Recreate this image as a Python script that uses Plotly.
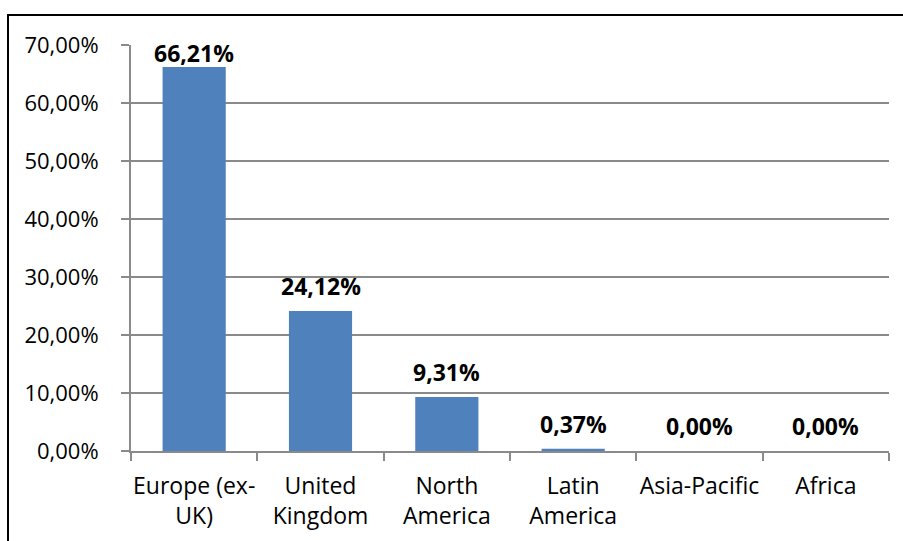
import plotly.graph_objects as go

# Regional breakdown (share of total, %)
regions = ["Europe (ex-<br>UK)", "United<br>Kingdom", "North<br>America",
           "Latin<br>America", "Asia-Pacific", "Africa"]
shares = [66.21, 24.12, 9.31, 0.37, 0.00, 0.00]

y_ticks = [0, 10, 20, 30, 40, 50, 60, 70]
y_max = 70


def pct(v):
    return f"{v:.2f}%".replace(".", ",")


FONT = "Open Sans, Liberation Sans, Arial, sans-serif"
GRID = "#8a8a8a"

fig = go.Figure(
    go.Bar(
        x=regions,
        y=shares,
        marker=dict(color="#4f81bd", line=dict(width=0)),
        width=0.5,
        hoverinfo="x+y",
    )
)

# value labels above each bar; a label that would run past the top is tucked inside
annotations = []
for cat, v in zip(regions, shares):
    if v > y_max - 5:
        annotations.append(dict(x=cat, y=y_max, yanchor="top", yshift=10))
    else:
        annotations.append(dict(x=cat, y=v, yanchor="bottom", yshift=7))
for a, v in zip(annotations, shares):
    a.update(
        xref="x",
        yref="y",
        text=f"<b>{pct(v)}</b>",
        showarrow=False,
        xanchor="center",
        font=dict(family=FONT, size=23, color="#000000"),
    )

W, H = 903, 541
L, R, T, B = 131, 14, 45, 90
pw, ph = W - L - R, H - T - B


def px_x(x):
    return (x - L) / pw


def px_y(y):
    return (H - B - y) / ph


fig.update_layout(
    width=W,
    height=H,
    margin=dict(l=L, r=R, t=T, b=B, pad=0, autoexpand=False),
    paper_bgcolor="white",
    plot_bgcolor="white",
    showlegend=False,
    font=dict(family=FONT, size=22, color="#000000"),
    annotations=annotations,
    xaxis=dict(
        type="category",
        automargin=False,
        tickangle=0,
        showgrid=False,
        showline=True,
        linecolor=GRID,
        linewidth=2,
        ticks="outside",
        tickson="boundaries",
        ticklen=8,
        tickwidth=2,
        tickcolor=GRID,
        ticklabelstandoff=13,
        tickfont=dict(family=FONT, size=23, color="#000000"),
    ),
    yaxis=dict(
        range=[0, y_max],
        automargin=False,
        tickvals=y_ticks,
        ticktext=[pct(t) for t in y_ticks],
        showgrid=True,
        gridcolor=GRID,
        gridwidth=2,
        showline=True,
        linecolor=GRID,
        linewidth=2,
        ticks="outside",
        ticklen=8,
        tickwidth=2,
        tickcolor=GRID,
        ticklabelstandoff=18,
        zeroline=False,
        tickfont=dict(family=FONT, size=22, color="#000000"),
    ),
    shapes=[
        # chart frame, continuing past the right and bottom edges
        dict(
            type="rect",
            xref="paper",
            yref="paper",
            x0=px_x(8),
            x1=px_x(910),
            y0=px_y(550),
            y1=px_y(15),
            line=dict(color="#000000", width=2),
            fillcolor="rgba(0,0,0,0)",
            layer="below",
        )
    ],
)

fig.write_html("out.html")
